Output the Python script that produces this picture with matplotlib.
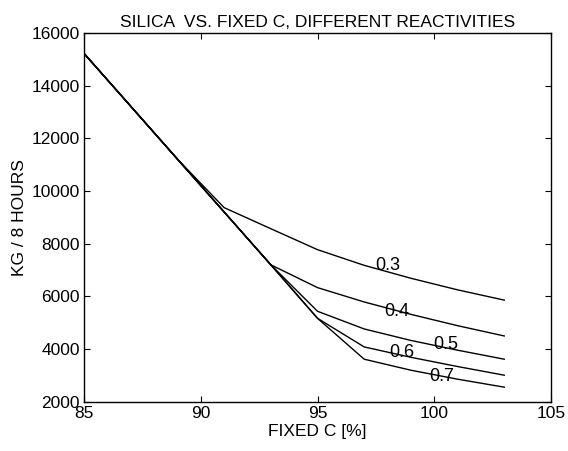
import matplotlib
matplotlib.use("Agg")
import matplotlib.pyplot as plt

plt.rcParams["font.family"] = ["Liberation Sans", "DejaVu Sans"]

fixed_c = [85, 87, 89, 91, 93, 95, 97, 99, 101, 103]
reactivity = ["0.3", "0.4", "0.5", "0.6", "0.7"]
kg_per_8h = {
    "0.3": [15220, 13215, 11210, 9370, 8570, 7775, 7180, 6690, 6250, 5860],
    "0.4": [15220, 13215, 11210, 9205, 7200, 6335, 5790, 5320, 4890, 4500],
    "0.5": [15220, 13215, 11210, 9205, 7200, 5437, 4766, 4330, 3960, 3618],
    "0.6": [15220, 13215, 11210, 9205, 7200, 5170, 4084, 3690, 3340, 3011],
    "0.7": [15220, 13215, 11210, 9205, 7200, 5170, 3618, 3200, 2860, 2557],
}
label_x = [98.0, 98.4, 100.5, 98.6, 100.3]
label_y = [7180, 5440, 4190, 3860, 2950]

fig = plt.figure(figsize=(5.68, 4.51), dpi=100)
ax = fig.add_axes([0.148, 0.109, 0.822, 0.818])

for r in reactivity:
    ax.plot(fixed_c, kg_per_8h[r], color="black", linewidth=1.0)

for r, lx, ly in zip(reactivity, label_x, label_y):
    ax.text(lx, ly, r, fontsize=13, ha="center", va="center")

ax.set_xlim(85, 105)
ax.set_ylim(2000, 16000)
ax.set_xticks(range(85, 106, 5))
ax.set_yticks(range(2000, 16001, 2000))
ax.tick_params(direction="in", top=True, right=True, length=4, labelsize=12.5, width=0.8, pad=3)
for s in ax.spines.values():
    s.set_linewidth(1.0)

ax.set_title("SILICA  VS. FIXED C, DIFFERENT REACTIVITIES", fontsize=12.5, pad=4)
ax.set_xlabel("FIXED C [%]", fontsize=12.5, labelpad=2)
ax.set_ylabel("KG / 8 HOURS", fontsize=12.5, labelpad=3)

fig.savefig("out.png", dpi=100)
